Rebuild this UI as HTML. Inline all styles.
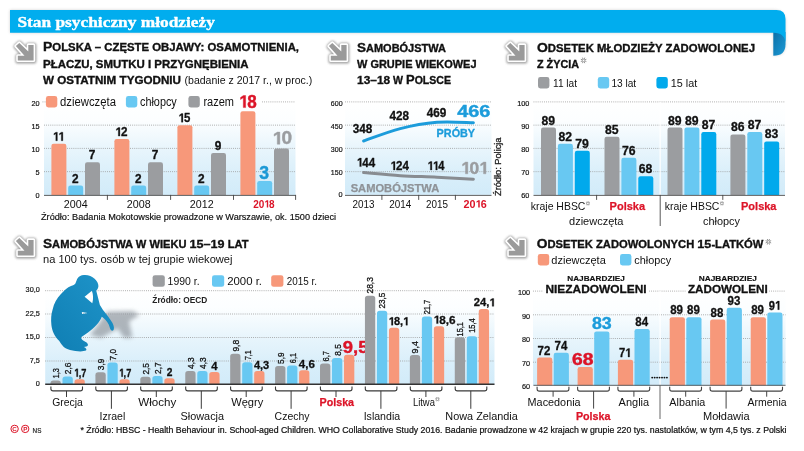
<!DOCTYPE html>
<html lang="pl"><head><meta charset="utf-8"><title>Stan psychiczny młodzieży</title>
<style>html,body{margin:0;padding:0;background:#fff}body{width:804px;height:451px;overflow:hidden;font-family:"Liberation Sans",sans-serif}svg{display:block}</style>
</head><body>
<svg width="804" height="451" viewBox="0 0 804 451">
<defs>
<linearGradient id="pg" x1="0" y1="0" x2="0" y2="1"><stop offset="0" stop-color="#ffffff"/><stop offset="0.2" stop-color="#fcfeff"/><stop offset="0.5" stop-color="#e8f5fc"/><stop offset="0.8" stop-color="#d8eefa"/><stop offset="1" stop-color="#d2ebf9"/></linearGradient>
<linearGradient id="pers" x1="1" y1="0" x2="0" y2="1"><stop offset="0" stop-color="#1f95ca"/><stop offset="1" stop-color="#0f7eb3"/></linearGradient>
<linearGradient id="fold" x1="0" y1="0" x2="1" y2="1"><stop offset="0" stop-color="#0a6fa8"/><stop offset="1" stop-color="#1e9bd6"/></linearGradient>
<filter id="blur1" x="-30%" y="-30%" width="160%" height="160%"><feGaussianBlur stdDeviation="1.2"/></filter>
<filter id="blur2" x="-30%" y="-30%" width="160%" height="160%"><feGaussianBlur stdDeviation="2.2"/></filter>
<filter id="blur3" x="-10%" y="-60%" width="120%" height="220%"><feGaussianBlur stdDeviation="1.6"/></filter>
</defs>
<rect width="804" height="451" fill="#fff"/>
<g opacity="0.999">
<path d="M10,10 H773 Q785.5,10 785.5,22.5 V44 Q785.5,55.5 773.5,55.5 V32.7 H10 Z" fill="#999" opacity="0.45" filter="url(#blur3)"/>
<path d="M773.3,32 H785.5 V44.3 Q785.5,55.8 773.3,55.8 Z" fill="url(#fold)"/>
<path d="M10,10 H776.5 Q785.5,10 785.5,19 V44.3 Q785.5,32.8 773.3,32.8 H10 Z" fill="#00adee"/>
<text x="17.4" y="26.8" font-family="Liberation Serif" font-size="15.2" font-weight="bold" fill="#fff" text-anchor="start" textLength="197.5" lengthAdjust="spacingAndGlyphs" stroke="#fff" stroke-width="0.35" stroke-linejoin="round">Stan psychiczny młodzieży</text>
<path d="M19.3,43.0 L28.3,51.6 L28.3,44.9 L33.6,44.9 L33.6,60.4 L17.8,60.4 L17.8,55.8 L24.5,55.8 L15.9,46.1 Z" fill="#8a8a8a" stroke="#8a8a8a" stroke-width="5.2" stroke-linejoin="round" opacity="0.8" filter="url(#blur1)" transform="translate(0.2,0.5)"/>
<path d="M19.3,43.0 L28.3,51.6 L28.3,44.9 L33.6,44.9 L33.6,60.4 L17.8,60.4 L17.8,55.8 L24.5,55.8 L15.9,46.1 Z" fill="#fff" stroke="#fff" stroke-width="3.2" stroke-linejoin="round"/>
<path d="M19.3,43.0 L28.3,51.6 L28.3,44.9 L33.6,44.9 L33.6,60.4 L17.8,60.4 L17.8,55.8 L24.5,55.8 L15.9,46.1 Z" fill="#9a9a9a"/>
<text x="43.0" y="51.2" font-family="Liberation Sans" font-weight="bold" fill="#111111" stroke="#111111" stroke-width="0.32" xml:space="preserve" textLength="256.0" lengthAdjust="spacingAndGlyphs"><tspan font-size="12.3">P</tspan><tspan font-size="10.0">OLSKA – CZĘSTE OBJAWY: OSAMOTNIENIA,</tspan></text>
<text x="43.0" y="67.8" font-family="Liberation Sans" font-weight="bold" fill="#111111" stroke="#111111" stroke-width="0.32" xml:space="preserve" textLength="205.5" lengthAdjust="spacingAndGlyphs"><tspan font-size="10.0">PŁACZU, SMUTKU I PRZYGNĘBIENIA</tspan></text>
<text x="43.0" y="84.2" font-family="Liberation Sans" font-weight="bold" fill="#111111" stroke="#111111" stroke-width="0.32" xml:space="preserve" textLength="138.0" lengthAdjust="spacingAndGlyphs"><tspan font-size="10.0">W OSTATNIM TYGODNIU</tspan></text>
<text x="184.5" y="84.2" font-family="Liberation Sans" font-size="10.8" font-weight="normal" fill="#111111" text-anchor="start" textLength="127.8" lengthAdjust="spacingAndGlyphs">(badanie z 2017 r., w proc.)</text>
<rect x="44.0" y="102.0" width="251.5" height="93.4" fill="url(#pg)"/>
<line x1="44.0" y1="171.65" x2="295.5" y2="171.65" stroke="#999999" stroke-width="0.85" stroke-dasharray="0.9 1.2"/>
<line x1="44.0" y1="148.40" x2="295.5" y2="148.40" stroke="#999999" stroke-width="0.85" stroke-dasharray="0.9 1.2"/>
<line x1="44.0" y1="125.15" x2="295.5" y2="125.15" stroke="#999999" stroke-width="0.85" stroke-dasharray="0.9 1.2"/>
<line x1="42.5" y1="101.90" x2="45.5" y2="101.90" stroke="#999999" stroke-width="0.85" stroke-dasharray="0.9 1.2"/>
<line x1="262.0" y1="101.90" x2="295.5" y2="101.90" stroke="#999999" stroke-width="0.85" stroke-dasharray="0.9 1.2"/>
<text x="39.6" y="197.5" font-family="Liberation Sans" font-size="7.3" font-weight="normal" fill="#111111" text-anchor="end" stroke="#111111" stroke-width="0.18" stroke-linejoin="round">0</text>
<text x="39.6" y="175.2" font-family="Liberation Sans" font-size="7.3" font-weight="normal" fill="#111111" text-anchor="end" stroke="#111111" stroke-width="0.18" stroke-linejoin="round">5</text>
<text x="39.6" y="152.0" font-family="Liberation Sans" font-size="7.3" font-weight="normal" fill="#111111" text-anchor="end" stroke="#111111" stroke-width="0.18" stroke-linejoin="round">10</text>
<text x="39.6" y="128.8" font-family="Liberation Sans" font-size="7.3" font-weight="normal" fill="#111111" text-anchor="end" stroke="#111111" stroke-width="0.18" stroke-linejoin="round">15</text>
<text x="39.6" y="105.5" font-family="Liberation Sans" font-size="7.3" font-weight="normal" fill="#111111" text-anchor="end" stroke="#111111" stroke-width="0.18" stroke-linejoin="round">20</text>
<rect x="45.9" y="96.1" width="11.4" height="11.4" rx="2.4" fill="#f7987a"/>
<text x="60.0" y="106.4" font-family="Liberation Sans" font-size="12" font-weight="normal" fill="#111111" text-anchor="start" textLength="56.0" lengthAdjust="spacingAndGlyphs">dziewczęta</text>
<rect x="125.9" y="96.1" width="11.4" height="11.4" rx="2.4" fill="#68c8f2"/>
<text x="140.0" y="106.4" font-family="Liberation Sans" font-size="12" font-weight="normal" fill="#111111" text-anchor="start" textLength="36.8" lengthAdjust="spacingAndGlyphs">chłopcy</text>
<rect x="188.4" y="96.1" width="11.4" height="11.4" rx="2.4" fill="#9b9da0"/>
<text x="203.4" y="106.4" font-family="Liberation Sans" font-size="12" font-weight="normal" fill="#111111" text-anchor="start" textLength="30.6" lengthAdjust="spacingAndGlyphs">razem</text>
<path d="M51.40,194.90 V145.95 Q51.40,143.75 53.60,143.75 H64.20 Q66.40,143.75 66.40,145.95 V194.90 Z" fill="#f7987a"/>
<g transform="translate(52.90,140.75) scale(0.9176,1)" fill="#111111" stroke="#111111" stroke-width="0.30" stroke-linejoin="round">
<path d="M3.17,0.00 L3.17,-6.96 L1.12,-5.69 L1.12,-7.14 L3.26,-8.53 L4.87,-8.53 L4.87,0.00Z"/>
<path d="M9.16,0.00 L9.16,-6.96 L7.11,-5.69 L7.11,-7.14 L9.25,-8.53 L10.86,-8.53 L10.86,0.00Z"/>
</g>
<path d="M68.20,194.90 V187.80 Q68.20,185.60 70.40,185.60 H81.00 Q83.20,185.60 83.20,187.80 V194.90 Z" fill="#68c8f2"/>
<text x="75.2" y="182.6" font-family="Liberation Sans" font-size="12.4" font-weight="bold" fill="#111111" text-anchor="middle" textLength="6.6" lengthAdjust="spacingAndGlyphs" stroke="#111111" stroke-width="0.30" stroke-linejoin="round">2</text>
<path d="M85.00,194.90 V164.55 Q85.00,162.35 87.20,162.35 H97.80 Q100.00,162.35 100.00,164.55 V194.90 Z" fill="#9b9da0"/>
<text x="92.0" y="159.3" font-family="Liberation Sans" font-size="12.4" font-weight="bold" fill="#111111" text-anchor="middle" textLength="6.6" lengthAdjust="spacingAndGlyphs" stroke="#111111" stroke-width="0.30" stroke-linejoin="round">7</text>
<text x="75.7" y="207.5" font-family="Liberation Sans" font-size="10.4" font-weight="normal" fill="#111111" text-anchor="middle" textLength="23.8" lengthAdjust="spacingAndGlyphs">2004</text>
<path d="M114.40,194.90 V141.30 Q114.40,139.10 116.60,139.10 H127.20 Q129.40,139.10 129.40,141.30 V194.90 Z" fill="#f7987a"/>
<g transform="translate(115.30,136.10) scale(0.9464,1)" fill="#111111" stroke="#111111" stroke-width="0.30" stroke-linejoin="round">
<path d="M3.17,0.00 L3.17,-6.96 L1.12,-5.69 L1.12,-7.14 L3.26,-8.53 L4.87,-8.53 L4.87,0.00Z"/>
<text x="5.99" y="0" font-family="Liberation Sans" font-size="12.4" font-weight="bold">2</text>
</g>
<path d="M131.20,194.90 V187.80 Q131.20,185.60 133.40,185.60 H144.00 Q146.20,185.60 146.20,187.80 V194.90 Z" fill="#68c8f2"/>
<text x="138.2" y="182.6" font-family="Liberation Sans" font-size="12.4" font-weight="bold" fill="#111111" text-anchor="middle" textLength="6.6" lengthAdjust="spacingAndGlyphs" stroke="#111111" stroke-width="0.30" stroke-linejoin="round">2</text>
<path d="M148.00,194.90 V164.55 Q148.00,162.35 150.20,162.35 H160.80 Q163.00,162.35 163.00,164.55 V194.90 Z" fill="#9b9da0"/>
<text x="155.0" y="159.3" font-family="Liberation Sans" font-size="12.4" font-weight="bold" fill="#111111" text-anchor="middle" textLength="6.6" lengthAdjust="spacingAndGlyphs" stroke="#111111" stroke-width="0.30" stroke-linejoin="round">7</text>
<text x="138.7" y="207.5" font-family="Liberation Sans" font-size="10.4" font-weight="normal" fill="#111111" text-anchor="middle" textLength="23.8" lengthAdjust="spacingAndGlyphs">2008</text>
<path d="M177.40,194.90 V127.35 Q177.40,125.15 179.60,125.15 H190.20 Q192.40,125.15 192.40,127.35 V194.90 Z" fill="#f7987a"/>
<g transform="translate(178.45,122.15) scale(0.9232,1)" fill="#111111" stroke="#111111" stroke-width="0.30" stroke-linejoin="round">
<path d="M3.17,0.00 L3.17,-6.96 L1.12,-5.69 L1.12,-7.14 L3.26,-8.53 L4.87,-8.53 L4.87,0.00Z"/>
<text x="5.99" y="0" font-family="Liberation Sans" font-size="12.4" font-weight="bold">5</text>
</g>
<path d="M194.20,194.90 V187.80 Q194.20,185.60 196.40,185.60 H207.00 Q209.20,185.60 209.20,187.80 V194.90 Z" fill="#68c8f2"/>
<text x="201.2" y="182.6" font-family="Liberation Sans" font-size="12.4" font-weight="bold" fill="#111111" text-anchor="middle" textLength="6.6" lengthAdjust="spacingAndGlyphs" stroke="#111111" stroke-width="0.30" stroke-linejoin="round">2</text>
<path d="M211.00,194.90 V155.25 Q211.00,153.05 213.20,153.05 H223.80 Q226.00,153.05 226.00,155.25 V194.90 Z" fill="#9b9da0"/>
<text x="218.0" y="150.1" font-family="Liberation Sans" font-size="12.4" font-weight="bold" fill="#111111" text-anchor="middle" textLength="6.6" lengthAdjust="spacingAndGlyphs" stroke="#111111" stroke-width="0.30" stroke-linejoin="round">9</text>
<text x="201.7" y="207.5" font-family="Liberation Sans" font-size="10.4" font-weight="normal" fill="#111111" text-anchor="middle" textLength="23.8" lengthAdjust="spacingAndGlyphs">2012</text>
<path d="M240.40,194.90 V113.40 Q240.40,111.20 242.60,111.20 H253.20 Q255.40,111.20 255.40,113.40 V194.90 Z" fill="#f7987a"/>
<path d="M257.20,194.90 V183.15 Q257.20,180.95 259.40,180.95 H270.00 Q272.20,180.95 272.20,183.15 V194.90 Z" fill="#68c8f2"/>
<path d="M274.00,194.90 V150.60 Q274.00,148.40 276.20,148.40 H286.80 Q289.00,148.40 289.00,150.60 V194.90 Z" fill="#9b9da0"/>
<g transform="translate(238.95,107.60) scale(0.9674,1)" fill="#dc1428" stroke="#dc1428" stroke-width="0.40" stroke-linejoin="round">
<path d="M4.49,0.00 L4.49,-9.88 L1.59,-8.07 L1.59,-10.14 L4.62,-12.11 L6.91,-12.11 L6.91,0.00Z"/>
<text x="8.51" y="0" font-family="Liberation Sans" font-size="17.6" font-weight="bold">8</text>
</g>
<text x="264.2" y="178.8" font-family="Liberation Sans" font-size="17.6" font-weight="bold" fill="#1b98d5" text-anchor="middle" textLength="9.8" lengthAdjust="spacingAndGlyphs" stroke="#1b98d5" stroke-width="0.40" stroke-linejoin="round">3</text>
<g transform="translate(272.40,144.20) scale(1.0822,1)" fill="#9b9da0" stroke="#9b9da0" stroke-width="0.40" stroke-linejoin="round">
<path d="M4.49,0.00 L4.49,-9.88 L1.59,-8.07 L1.59,-10.14 L4.62,-12.11 L6.91,-12.11 L6.91,0.00Z"/>
<text x="8.51" y="0" font-family="Liberation Sans" font-size="17.6" font-weight="bold">0</text>
</g>
<g transform="translate(253.15,207.50) scale(0.9607,1)" fill="#dc1428">
<text x="0.00" y="0" font-family="Liberation Sans" font-size="10.4" font-weight="bold">2</text>
<text x="5.78" y="0" font-family="Liberation Sans" font-size="10.4" font-weight="bold">0</text>
<path d="M14.22,0.00 L14.22,-5.84 L12.51,-4.77 L12.51,-5.99 L14.30,-7.16 L15.65,-7.16 L15.65,0.00Z"/>
<text x="16.60" y="0" font-family="Liberation Sans" font-size="10.4" font-weight="bold">8</text>
</g>
<line x1="44" y1="195.4" x2="295.8" y2="195.4" stroke="#444" stroke-width="0.85"/>
<line x1="107.4" y1="194.9" x2="107.4" y2="199.9" stroke="#444" stroke-width="0.9"/>
<line x1="170.6" y1="194.9" x2="170.6" y2="199.9" stroke="#444" stroke-width="0.9"/>
<line x1="233.5" y1="194.9" x2="233.5" y2="199.9" stroke="#444" stroke-width="0.9"/>
<line x1="295.6" y1="194.9" x2="295.6" y2="199.9" stroke="#444" stroke-width="0.9"/>
<text x="41.0" y="220.1" font-family="Liberation Sans" font-size="9.0" font-weight="normal" fill="#111111" text-anchor="start" textLength="295.0" lengthAdjust="spacingAndGlyphs" stroke="#111111" stroke-width="0.18" stroke-linejoin="round">Źródło: Badania Mokotowskie prowadzone w Warszawie, ok. 1500 dzieci</text>
<path d="M332.3,43.0 L341.3,51.6 L341.3,44.9 L346.6,44.9 L346.6,60.4 L330.8,60.4 L330.8,55.8 L337.5,55.8 L328.9,46.1 Z" fill="#8a8a8a" stroke="#8a8a8a" stroke-width="5.2" stroke-linejoin="round" opacity="0.8" filter="url(#blur1)" transform="translate(0.2,0.5)"/>
<path d="M332.3,43.0 L341.3,51.6 L341.3,44.9 L346.6,44.9 L346.6,60.4 L330.8,60.4 L330.8,55.8 L337.5,55.8 L328.9,46.1 Z" fill="#fff" stroke="#fff" stroke-width="3.2" stroke-linejoin="round"/>
<path d="M332.3,43.0 L341.3,51.6 L341.3,44.9 L346.6,44.9 L346.6,60.4 L330.8,60.4 L330.8,55.8 L337.5,55.8 L328.9,46.1 Z" fill="#9a9a9a"/>
<text x="357.0" y="51.6" font-family="Liberation Sans" font-weight="bold" fill="#111111" stroke="#111111" stroke-width="0.32" xml:space="preserve" textLength="89.0" lengthAdjust="spacingAndGlyphs"><tspan font-size="12.3">S</tspan><tspan font-size="10.0">AMOBÓJSTWA</tspan></text>
<text x="357.0" y="68.0" font-family="Liberation Sans" font-weight="bold" fill="#111111" stroke="#111111" stroke-width="0.32" xml:space="preserve" textLength="119.5" lengthAdjust="spacingAndGlyphs"><tspan font-size="10.0">W GRUPIE WIEKOWEJ</tspan></text>
<text x="357.0" y="84.2" font-family="Liberation Sans" font-weight="bold" fill="#111111" stroke="#111111" stroke-width="0.32" xml:space="preserve" textLength="94.0" lengthAdjust="spacingAndGlyphs"><tspan font-size="11.3">13–18</tspan><tspan font-size="10.0"> W </tspan><tspan font-size="12.3">P</tspan><tspan font-size="10.0">OLSCE</tspan></text>
<rect x="345.0" y="102.0" width="146.5" height="92.9" fill="url(#pg)"/>
<line x1="345.0" y1="171.65" x2="491.5" y2="171.65" stroke="#999999" stroke-width="0.85" stroke-dasharray="0.9 1.2"/>
<line x1="345.0" y1="148.40" x2="491.5" y2="148.40" stroke="#999999" stroke-width="0.85" stroke-dasharray="0.9 1.2"/>
<line x1="345.0" y1="125.15" x2="491.5" y2="125.15" stroke="#999999" stroke-width="0.85" stroke-dasharray="0.9 1.2"/>
<line x1="345.0" y1="101.90" x2="491.5" y2="101.90" stroke="#999999" stroke-width="0.85" stroke-dasharray="0.9 1.2"/>
<text x="342.6" y="197.1" font-family="Liberation Sans" font-size="7.3" font-weight="normal" fill="#111111" text-anchor="end" stroke="#111111" stroke-width="0.18" stroke-linejoin="round">0</text>
<text x="342.6" y="175.2" font-family="Liberation Sans" font-size="7.3" font-weight="normal" fill="#111111" text-anchor="end" textLength="11.8" lengthAdjust="spacingAndGlyphs" stroke="#111111" stroke-width="0.18" stroke-linejoin="round">150</text>
<text x="342.6" y="152.0" font-family="Liberation Sans" font-size="7.3" font-weight="normal" fill="#111111" text-anchor="end" textLength="11.8" lengthAdjust="spacingAndGlyphs" stroke="#111111" stroke-width="0.18" stroke-linejoin="round">300</text>
<text x="342.6" y="128.8" font-family="Liberation Sans" font-size="7.3" font-weight="normal" fill="#111111" text-anchor="end" textLength="11.8" lengthAdjust="spacingAndGlyphs" stroke="#111111" stroke-width="0.18" stroke-linejoin="round">450</text>
<text x="342.6" y="105.5" font-family="Liberation Sans" font-size="7.3" font-weight="normal" fill="#111111" text-anchor="end" textLength="11.8" lengthAdjust="spacingAndGlyphs" stroke="#111111" stroke-width="0.18" stroke-linejoin="round">600</text>
<path d="M363.6,141.0 C369.7,138.9 388.1,131.7 400.3,128.6 C412.5,125.4 424.8,123.2 437.0,122.2 C449.2,121.2 467.3,122.6 473.4,122.7" fill="none" stroke="#1c9cdb" stroke-width="3" stroke-linecap="round"/>
<path d="M363.6,172.6 C369.7,173.1 388.1,174.9 400.3,175.7 C412.5,176.5 424.8,176.6 437.0,177.2 C449.2,177.8 467.3,178.9 473.4,179.2" fill="none" stroke="#888c91" stroke-width="3" stroke-linecap="round"/>
<text x="362.5" y="133.4" font-family="Liberation Sans" font-size="12.4" font-weight="bold" fill="#111111" text-anchor="middle" textLength="19.6" lengthAdjust="spacingAndGlyphs" stroke="#111111" stroke-width="0.30" stroke-linejoin="round">348</text>
<text x="399.3" y="120.4" font-family="Liberation Sans" font-size="12.4" font-weight="bold" fill="#111111" text-anchor="middle" textLength="19.6" lengthAdjust="spacingAndGlyphs" stroke="#111111" stroke-width="0.30" stroke-linejoin="round">428</text>
<text x="436.6" y="117.4" font-family="Liberation Sans" font-size="12.4" font-weight="bold" fill="#111111" text-anchor="middle" textLength="19.6" lengthAdjust="spacingAndGlyphs" stroke="#111111" stroke-width="0.30" stroke-linejoin="round">469</text>
<text x="457.2" y="116.6" font-family="Liberation Sans" font-size="16.6" font-weight="bold" fill="#1c9cdb" text-anchor="start" textLength="33.2" lengthAdjust="spacingAndGlyphs" stroke="#1c9cdb" stroke-width="0.40" stroke-linejoin="round">466</text>
<text x="436.6" y="137.4" font-family="Liberation Sans" font-size="10.4" font-weight="bold" fill="#1c9cdb" text-anchor="start" textLength="38.5" lengthAdjust="spacingAndGlyphs" stroke="#1c9cdb" stroke-width="0.30" stroke-linejoin="round">PRÓBY</text>
<g transform="translate(356.75,166.60) scale(0.9350,1)" fill="#111111" stroke="#111111" stroke-width="0.30" stroke-linejoin="round">
<path d="M3.17,0.00 L3.17,-6.96 L1.12,-5.69 L1.12,-7.14 L3.26,-8.53 L4.87,-8.53 L4.87,0.00Z"/>
<text x="5.99" y="0" font-family="Liberation Sans" font-size="12.4" font-weight="bold">4</text>
<text x="12.89" y="0" font-family="Liberation Sans" font-size="12.4" font-weight="bold">4</text>
</g>
<g transform="translate(390.45,170.00) scale(0.9350,1)" fill="#111111" stroke="#111111" stroke-width="0.30" stroke-linejoin="round">
<path d="M3.17,0.00 L3.17,-6.96 L1.12,-5.69 L1.12,-7.14 L3.26,-8.53 L4.87,-8.53 L4.87,0.00Z"/>
<text x="5.99" y="0" font-family="Liberation Sans" font-size="12.4" font-weight="bold">2</text>
<text x="12.89" y="0" font-family="Liberation Sans" font-size="12.4" font-weight="bold">4</text>
</g>
<g transform="translate(427.50,170.00) scale(0.9002,1)" fill="#111111" stroke="#111111" stroke-width="0.30" stroke-linejoin="round">
<path d="M3.17,0.00 L3.17,-6.96 L1.12,-5.69 L1.12,-7.14 L3.26,-8.53 L4.87,-8.53 L4.87,0.00Z"/>
<path d="M9.16,0.00 L9.16,-6.96 L7.11,-5.69 L7.11,-7.14 L9.25,-8.53 L10.86,-8.53 L10.86,0.00Z"/>
<text x="11.99" y="0" font-family="Liberation Sans" font-size="12.4" font-weight="bold">4</text>
</g>
<g transform="translate(461.00,173.80) scale(1.0236,1)" fill="#9b9da0" stroke="#9b9da0" stroke-width="0.40" stroke-linejoin="round">
<path d="M4.34,0.00 L4.34,-9.55 L1.54,-7.79 L1.54,-9.79 L4.47,-11.70 L6.67,-11.70 L6.67,0.00Z"/>
<text x="8.22" y="0" font-family="Liberation Sans" font-size="17" font-weight="bold">0</text>
<path d="M22.01,0.00 L22.01,-9.55 L19.21,-7.79 L19.21,-9.79 L22.14,-11.70 L24.35,-11.70 L24.35,0.00Z"/>
</g>
<text x="350.7" y="191.8" font-family="Liberation Sans" font-size="10.1" font-weight="bold" fill="#8f9398" text-anchor="start" textLength="88.5" lengthAdjust="spacingAndGlyphs" stroke="#8f9398" stroke-width="0.25" stroke-linejoin="round">SAMOBÓJSTWA</text>
<line x1="345.0" y1="195.4" x2="491.5" y2="195.4" stroke="#444" stroke-width="0.85"/>
<line x1="381.9" y1="194.9" x2="381.9" y2="199.9" stroke="#444" stroke-width="0.9"/>
<line x1="418.7" y1="194.9" x2="418.7" y2="199.9" stroke="#444" stroke-width="0.9"/>
<line x1="455.4" y1="194.9" x2="455.4" y2="199.9" stroke="#444" stroke-width="0.9"/>
<text x="363.6" y="207.5" font-family="Liberation Sans" font-size="10.4" font-weight="normal" fill="#111111" text-anchor="middle" textLength="22.0" lengthAdjust="spacingAndGlyphs">2013</text>
<text x="400.3" y="207.5" font-family="Liberation Sans" font-size="10.4" font-weight="normal" fill="#111111" text-anchor="middle" textLength="22.0" lengthAdjust="spacingAndGlyphs">2014</text>
<text x="437.0" y="207.5" font-family="Liberation Sans" font-size="10.4" font-weight="normal" fill="#111111" text-anchor="middle" textLength="22.0" lengthAdjust="spacingAndGlyphs">2015</text>
<g transform="translate(463.50,207.50) scale(1.0367,1)" fill="#dc1428">
<text x="0.00" y="0" font-family="Liberation Sans" font-size="10.4" font-weight="bold">2</text>
<text x="5.78" y="0" font-family="Liberation Sans" font-size="10.4" font-weight="bold">0</text>
<path d="M14.22,0.00 L14.22,-5.84 L12.51,-4.77 L12.51,-5.99 L14.30,-7.16 L15.65,-7.16 L15.65,0.00Z"/>
<text x="16.60" y="0" font-family="Liberation Sans" font-size="10.4" font-weight="bold">6</text>
</g>
<text transform="translate(501.0,196.0) rotate(-90)" font-family="Liberation Sans" font-size="8.8" font-weight="normal" stroke="#222" stroke-width="0.3" fill="#222" textLength="58.5" lengthAdjust="spacingAndGlyphs">Źródło: Policja</text>
<path d="M510.3,43.0 L519.3,51.6 L519.3,44.9 L524.6,44.9 L524.6,60.4 L508.8,60.4 L508.8,55.8 L515.5,55.8 L506.9,46.1 Z" fill="#8a8a8a" stroke="#8a8a8a" stroke-width="5.2" stroke-linejoin="round" opacity="0.8" filter="url(#blur1)" transform="translate(0.2,0.5)"/>
<path d="M510.3,43.0 L519.3,51.6 L519.3,44.9 L524.6,44.9 L524.6,60.4 L508.8,60.4 L508.8,55.8 L515.5,55.8 L506.9,46.1 Z" fill="#fff" stroke="#fff" stroke-width="3.2" stroke-linejoin="round"/>
<path d="M510.3,43.0 L519.3,51.6 L519.3,44.9 L524.6,44.9 L524.6,60.4 L508.8,60.4 L508.8,55.8 L515.5,55.8 L506.9,46.1 Z" fill="#9a9a9a"/>
<text x="537.0" y="51.8" font-family="Liberation Sans" font-weight="bold" fill="#111111" stroke="#111111" stroke-width="0.32" xml:space="preserve" textLength="218.0" lengthAdjust="spacingAndGlyphs"><tspan font-size="12.3">O</tspan><tspan font-size="10.0">DSETEK MŁODZIEŻY ZADOWOLONEJ</tspan></text>
<text x="537.0" y="67.9" font-family="Liberation Sans" font-weight="bold" fill="#111111" stroke="#111111" stroke-width="0.32" xml:space="preserve" textLength="42.0" lengthAdjust="spacingAndGlyphs"><tspan font-size="10.0">Z ŻYCIA</tspan></text>
<line x1="580.83" y1="59.25" x2="586.37" y2="61.55" stroke="#666" stroke-width="0.7"/>
<line x1="582.45" y1="57.63" x2="584.75" y2="63.17" stroke="#666" stroke-width="0.7"/>
<line x1="584.75" y1="57.63" x2="582.45" y2="63.17" stroke="#666" stroke-width="0.7"/>
<line x1="586.37" y1="59.25" x2="580.83" y2="61.55" stroke="#666" stroke-width="0.7"/>
<circle cx="583.60" cy="60.40" r="0.9" fill="#fff"/>
<rect x="538.0" y="77.0" width="11.4" height="11.4" rx="2.4" fill="#9b9da0"/>
<text x="553.0" y="87.2" font-family="Liberation Sans" font-size="11.8" font-weight="normal" fill="#111111" text-anchor="start" textLength="24.0" lengthAdjust="spacingAndGlyphs">11 lat</text>
<rect x="597.8" y="77.0" width="11.4" height="11.4" rx="2.4" fill="#68c8f2"/>
<text x="611.4" y="87.2" font-family="Liberation Sans" font-size="11.8" font-weight="normal" fill="#111111" text-anchor="start" textLength="24.8" lengthAdjust="spacingAndGlyphs">13 lat</text>
<rect x="656.4" y="77.0" width="11.4" height="11.4" rx="2.4" fill="#00a9ec"/>
<text x="670.8" y="87.2" font-family="Liberation Sans" font-size="11.8" font-weight="normal" fill="#111111" text-anchor="start" textLength="26.4" lengthAdjust="spacingAndGlyphs">15 lat</text>
<rect x="533.5" y="102.0" width="251.5" height="92.9" fill="url(#pg)"/>
<line x1="533.5" y1="171.65" x2="785.0" y2="171.65" stroke="#999999" stroke-width="0.85" stroke-dasharray="0.9 1.2"/>
<line x1="533.5" y1="148.40" x2="785.0" y2="148.40" stroke="#999999" stroke-width="0.85" stroke-dasharray="0.9 1.2"/>
<line x1="533.5" y1="125.15" x2="785.0" y2="125.15" stroke="#999999" stroke-width="0.85" stroke-dasharray="0.9 1.2"/>
<line x1="533.5" y1="101.90" x2="785.0" y2="101.90" stroke="#999999" stroke-width="0.85" stroke-dasharray="0.9 1.2"/>
<text x="529.4" y="197.5" font-family="Liberation Sans" font-size="7.3" font-weight="normal" fill="#111111" text-anchor="end" stroke="#111111" stroke-width="0.18" stroke-linejoin="round">60</text>
<text x="529.4" y="175.2" font-family="Liberation Sans" font-size="7.3" font-weight="normal" fill="#111111" text-anchor="end" stroke="#111111" stroke-width="0.18" stroke-linejoin="round">70</text>
<text x="529.4" y="152.0" font-family="Liberation Sans" font-size="7.3" font-weight="normal" fill="#111111" text-anchor="end" stroke="#111111" stroke-width="0.18" stroke-linejoin="round">80</text>
<text x="529.4" y="128.8" font-family="Liberation Sans" font-size="7.3" font-weight="normal" fill="#111111" text-anchor="end" stroke="#111111" stroke-width="0.18" stroke-linejoin="round">90</text>
<text x="529.4" y="105.5" font-family="Liberation Sans" font-size="7.3" font-weight="normal" fill="#111111" text-anchor="end" stroke="#111111" stroke-width="0.18" stroke-linejoin="round">100</text>
<rect x="659.4" y="102" width="1.6" height="93" fill="#fff" opacity="0.75"/>
<path d="M541.00,194.90 V129.67 Q541.00,127.47 543.20,127.47 H553.80 Q556.00,127.47 556.00,129.67 V194.90 Z" fill="#9b9da0"/>
<text x="548.3" y="124.5" font-family="Liberation Sans" font-size="12.4" font-weight="bold" fill="#111111" text-anchor="middle" textLength="13.6" lengthAdjust="spacingAndGlyphs" stroke="#111111" stroke-width="0.30" stroke-linejoin="round">89</text>
<path d="M557.90,194.90 V145.95 Q557.90,143.75 560.10,143.75 H570.70 Q572.90,143.75 572.90,145.95 V194.90 Z" fill="#68c8f2"/>
<text x="565.2" y="140.8" font-family="Liberation Sans" font-size="12.4" font-weight="bold" fill="#111111" text-anchor="middle" textLength="13.6" lengthAdjust="spacingAndGlyphs" stroke="#111111" stroke-width="0.30" stroke-linejoin="round">82</text>
<path d="M574.80,194.90 V152.92 Q574.80,150.72 577.00,150.72 H587.60 Q589.80,150.72 589.80,152.92 V194.90 Z" fill="#00a9ec"/>
<text x="582.1" y="147.7" font-family="Liberation Sans" font-size="12.4" font-weight="bold" fill="#111111" text-anchor="middle" textLength="13.6" lengthAdjust="spacingAndGlyphs" stroke="#111111" stroke-width="0.30" stroke-linejoin="round">79</text>
<path d="M604.50,194.90 V138.97 Q604.50,136.78 606.70,136.78 H617.30 Q619.50,136.78 619.50,138.97 V194.90 Z" fill="#9b9da0"/>
<text x="611.8" y="133.8" font-family="Liberation Sans" font-size="12.4" font-weight="bold" fill="#111111" text-anchor="middle" textLength="13.6" lengthAdjust="spacingAndGlyphs" stroke="#111111" stroke-width="0.30" stroke-linejoin="round">85</text>
<path d="M621.40,194.90 V159.90 Q621.40,157.70 623.60,157.70 H634.20 Q636.40,157.70 636.40,159.90 V194.90 Z" fill="#68c8f2"/>
<text x="628.7" y="154.7" font-family="Liberation Sans" font-size="12.4" font-weight="bold" fill="#111111" text-anchor="middle" textLength="13.6" lengthAdjust="spacingAndGlyphs" stroke="#111111" stroke-width="0.30" stroke-linejoin="round">76</text>
<path d="M638.30,194.90 V178.50 Q638.30,176.30 640.50,176.30 H651.10 Q653.30,176.30 653.30,178.50 V194.90 Z" fill="#00a9ec"/>
<text x="645.6" y="173.3" font-family="Liberation Sans" font-size="12.4" font-weight="bold" fill="#111111" text-anchor="middle" textLength="13.6" lengthAdjust="spacingAndGlyphs" stroke="#111111" stroke-width="0.30" stroke-linejoin="round">68</text>
<path d="M667.50,194.90 V129.67 Q667.50,127.47 669.70,127.47 H680.30 Q682.50,127.47 682.50,129.67 V194.90 Z" fill="#9b9da0"/>
<text x="674.8" y="124.5" font-family="Liberation Sans" font-size="12.4" font-weight="bold" fill="#111111" text-anchor="middle" textLength="13.6" lengthAdjust="spacingAndGlyphs" stroke="#111111" stroke-width="0.30" stroke-linejoin="round">89</text>
<path d="M684.40,194.90 V129.67 Q684.40,127.47 686.60,127.47 H697.20 Q699.40,127.47 699.40,129.67 V194.90 Z" fill="#68c8f2"/>
<text x="691.7" y="124.5" font-family="Liberation Sans" font-size="12.4" font-weight="bold" fill="#111111" text-anchor="middle" textLength="13.6" lengthAdjust="spacingAndGlyphs" stroke="#111111" stroke-width="0.30" stroke-linejoin="round">89</text>
<path d="M701.30,194.90 V134.32 Q701.30,132.12 703.50,132.12 H714.10 Q716.30,132.12 716.30,134.32 V194.90 Z" fill="#00a9ec"/>
<text x="708.6" y="129.1" font-family="Liberation Sans" font-size="12.4" font-weight="bold" fill="#111111" text-anchor="middle" textLength="13.6" lengthAdjust="spacingAndGlyphs" stroke="#111111" stroke-width="0.30" stroke-linejoin="round">87</text>
<path d="M730.40,194.90 V136.65 Q730.40,134.45 732.60,134.45 H743.20 Q745.40,134.45 745.40,136.65 V194.90 Z" fill="#9b9da0"/>
<text x="737.7" y="131.4" font-family="Liberation Sans" font-size="12.4" font-weight="bold" fill="#111111" text-anchor="middle" textLength="13.6" lengthAdjust="spacingAndGlyphs" stroke="#111111" stroke-width="0.30" stroke-linejoin="round">86</text>
<path d="M747.30,194.90 V134.32 Q747.30,132.12 749.50,132.12 H760.10 Q762.30,132.12 762.30,134.32 V194.90 Z" fill="#68c8f2"/>
<text x="754.6" y="129.1" font-family="Liberation Sans" font-size="12.4" font-weight="bold" fill="#111111" text-anchor="middle" textLength="13.6" lengthAdjust="spacingAndGlyphs" stroke="#111111" stroke-width="0.30" stroke-linejoin="round">87</text>
<path d="M764.20,194.90 V143.62 Q764.20,141.43 766.40,141.43 H777.00 Q779.20,141.43 779.20,143.62 V194.90 Z" fill="#00a9ec"/>
<text x="771.5" y="138.4" font-family="Liberation Sans" font-size="12.4" font-weight="bold" fill="#111111" text-anchor="middle" textLength="13.6" lengthAdjust="spacingAndGlyphs" stroke="#111111" stroke-width="0.30" stroke-linejoin="round">83</text>
<line x1="533.5" y1="195.4" x2="785.0" y2="195.4" stroke="#444" stroke-width="0.85"/>
<line x1="596.6" y1="194.9" x2="596.6" y2="199.9" stroke="#444" stroke-width="0.9"/>
<line x1="722.8" y1="194.9" x2="722.8" y2="199.9" stroke="#444" stroke-width="0.9"/>
<line x1="660.2" y1="194.9" x2="660.2" y2="226" stroke="#444" stroke-width="0.9"/>
<text x="530.8" y="210.3" font-family="Liberation Sans" font-size="11.6" font-weight="normal" fill="#111111" text-anchor="start" textLength="54.6" lengthAdjust="spacingAndGlyphs">kraje HBSC</text>
<line x1="585.96" y1="202.60" x2="589.84" y2="204.20" stroke="#666" stroke-width="0.7"/>
<line x1="587.10" y1="201.46" x2="588.70" y2="205.34" stroke="#666" stroke-width="0.7"/>
<line x1="588.70" y1="201.46" x2="587.10" y2="205.34" stroke="#666" stroke-width="0.7"/>
<line x1="589.84" y1="202.60" x2="585.96" y2="204.20" stroke="#666" stroke-width="0.7"/>
<circle cx="587.90" cy="203.40" r="0.9" fill="#fff"/>
<text x="609.6" y="210.3" font-family="Liberation Sans" font-size="11.2" font-weight="bold" fill="#dc1428" text-anchor="start" textLength="35.5" lengthAdjust="spacingAndGlyphs" stroke="#dc1428" stroke-width="0.25" stroke-linejoin="round">Polska</text>
<text x="664.8" y="210.3" font-family="Liberation Sans" font-size="11.6" font-weight="normal" fill="#111111" text-anchor="start" textLength="54.6" lengthAdjust="spacingAndGlyphs">kraje HBSC</text>
<line x1="719.96" y1="202.60" x2="723.84" y2="204.20" stroke="#666" stroke-width="0.7"/>
<line x1="721.10" y1="201.46" x2="722.70" y2="205.34" stroke="#666" stroke-width="0.7"/>
<line x1="722.70" y1="201.46" x2="721.10" y2="205.34" stroke="#666" stroke-width="0.7"/>
<line x1="723.84" y1="202.60" x2="719.96" y2="204.20" stroke="#666" stroke-width="0.7"/>
<circle cx="721.90" cy="203.40" r="0.9" fill="#fff"/>
<text x="741.0" y="210.3" font-family="Liberation Sans" font-size="11.2" font-weight="bold" fill="#dc1428" text-anchor="start" textLength="35.5" lengthAdjust="spacingAndGlyphs" stroke="#dc1428" stroke-width="0.25" stroke-linejoin="round">Polska</text>
<text x="569.0" y="225.3" font-family="Liberation Sans" font-size="11.6" font-weight="normal" fill="#111111" text-anchor="start" textLength="54.5" lengthAdjust="spacingAndGlyphs">dziewczęta</text>
<text x="703.0" y="225.3" font-family="Liberation Sans" font-size="11.6" font-weight="normal" fill="#111111" text-anchor="start" textLength="37.0" lengthAdjust="spacingAndGlyphs">chłopcy</text>
<path d="M19.3,238.0 L28.3,246.6 L28.3,239.9 L33.6,239.9 L33.6,255.4 L17.8,255.4 L17.8,250.8 L24.5,250.8 L15.9,241.1 Z" fill="#8a8a8a" stroke="#8a8a8a" stroke-width="5.2" stroke-linejoin="round" opacity="0.8" filter="url(#blur1)" transform="translate(0.2,0.5)"/>
<path d="M19.3,238.0 L28.3,246.6 L28.3,239.9 L33.6,239.9 L33.6,255.4 L17.8,255.4 L17.8,250.8 L24.5,250.8 L15.9,241.1 Z" fill="#fff" stroke="#fff" stroke-width="3.2" stroke-linejoin="round"/>
<path d="M19.3,238.0 L28.3,246.6 L28.3,239.9 L33.6,239.9 L33.6,255.4 L17.8,255.4 L17.8,250.8 L24.5,250.8 L15.9,241.1 Z" fill="#9a9a9a"/>
<text x="43.0" y="248.3" font-family="Liberation Sans" font-weight="bold" fill="#111111" stroke="#111111" stroke-width="0.32" xml:space="preserve" textLength="205.5" lengthAdjust="spacingAndGlyphs"><tspan font-size="12.3">S</tspan><tspan font-size="10.0">AMOBÓJSTWA W WIEKU </tspan><tspan font-size="11.3">15–19</tspan><tspan font-size="10.0"> LAT</tspan></text>
<text x="43.0" y="263.0" font-family="Liberation Sans" font-size="10.8" font-weight="normal" fill="#111111" text-anchor="start" textLength="189.5" lengthAdjust="spacingAndGlyphs">na 100 tys. osób w tej grupie wiekowej</text>
<rect x="45.2" y="289.0" width="449.3" height="95.6" fill="url(#pg)"/>
<line x1="45.2" y1="361.00" x2="494.5" y2="361.00" stroke="#999999" stroke-width="0.85" stroke-dasharray="0.9 1.2"/>
<line x1="45.2" y1="337.50" x2="494.5" y2="337.50" stroke="#999999" stroke-width="0.85" stroke-dasharray="0.9 1.2"/>
<line x1="45.2" y1="314.00" x2="494.5" y2="314.00" stroke="#999999" stroke-width="0.85" stroke-dasharray="0.9 1.2"/>
<line x1="45.2" y1="290.70" x2="494.5" y2="290.70" stroke="#999999" stroke-width="0.85" stroke-dasharray="0.9 1.2"/>
<text x="39.8" y="385.9" font-family="Liberation Sans" font-size="7.3" font-weight="normal" fill="#111111" text-anchor="end" stroke="#111111" stroke-width="0.18" stroke-linejoin="round">0</text>
<text x="39.8" y="362.9" font-family="Liberation Sans" font-size="7.3" font-weight="normal" fill="#111111" text-anchor="end" stroke="#111111" stroke-width="0.18" stroke-linejoin="round">7,5</text>
<text x="39.8" y="339.3" font-family="Liberation Sans" font-size="7.3" font-weight="normal" fill="#111111" text-anchor="end" stroke="#111111" stroke-width="0.18" stroke-linejoin="round">15,0</text>
<text x="39.8" y="315.8" font-family="Liberation Sans" font-size="7.3" font-weight="normal" fill="#111111" text-anchor="end" stroke="#111111" stroke-width="0.18" stroke-linejoin="round">22,5</text>
<text x="39.8" y="292.2" font-family="Liberation Sans" font-size="7.3" font-weight="normal" fill="#111111" text-anchor="end" stroke="#111111" stroke-width="0.18" stroke-linejoin="round">30,0</text>
<rect x="150" y="273" width="172" height="15.5" fill="#fff"/>
<rect x="152.6" y="275.2" width="12.2" height="11.6" rx="2.4" fill="#9b9da0"/>
<text x="167.6" y="285.2" font-family="Liberation Sans" font-size="11.4" font-weight="normal" fill="#111111" text-anchor="start" textLength="32.0" lengthAdjust="spacingAndGlyphs">1990 r.</text>
<rect x="212.0" y="275.2" width="12.2" height="11.6" rx="2.4" fill="#68c8f2"/>
<text x="227.2" y="285.2" font-family="Liberation Sans" font-size="11.4" font-weight="normal" fill="#111111" text-anchor="start" textLength="34.8" lengthAdjust="spacingAndGlyphs">2000 r.</text>
<rect x="271.2" y="275.2" width="12.2" height="11.6" rx="2.4" fill="#f7987a"/>
<text x="286.7" y="285.2" font-family="Liberation Sans" font-size="11.4" font-weight="normal" fill="#111111" text-anchor="start" textLength="30.2" lengthAdjust="spacingAndGlyphs">2015 r.</text>
<text x="152.3" y="303.0" font-family="Liberation Sans" font-size="8.4" font-weight="bold" fill="#222" text-anchor="start" textLength="55.0" lengthAdjust="spacingAndGlyphs">Źródło: OECD</text>
<g>
<path d="M90,335 L99,323 L107,311.5 L133,311 L139.5,315 L129,321.5 L132.5,337.5 L124,338 L117.5,328.5 L101,338 Z" fill="#8a9199" opacity="0.66" filter="url(#blur2)"/>
<path fill-rule="evenodd" fill="url(#pers)" d="M83.9,275 C88,274.6 92,276.4 94.6,278.8 C97,281 98.5,283.8 98.4,286 C98.4,287.8 97.6,289.4 96.2,290.6 L99.9,305 L103,310 C106,314 110,318.5 112.5,323 C114,326 114.6,329 113.1,330.6 C111.5,331.2 110.2,329.6 109.6,327 C108.8,323.5 106.5,320.5 103.5,318 L101.8,316.7 C100,322 94,328 88,332.5 L81.1,337.3 C81.4,339 82.2,340.1 84,341 C86.5,342.1 88,343.5 88,345 C87.5,346.5 85.6,346.9 83.9,347 C86,348 87.1,349.6 86,350.6 C83,351.9 76,351.6 70,350 C66,349 63.5,347 62.5,345.5 C61,344 60,342.2 59.1,340.8 C55,337 52,331 51.4,325 C50.8,319 51.2,314 52.5,310 C54,303 57,298 60.5,294.5 C64,290.5 67.5,287.4 71,286 C73,285.3 74.7,284.7 75.4,283.4 C76.3,281.6 76.6,279.8 77.6,278.2 C78.8,276.4 81,275.2 83.9,275 Z M91.9,290.8 L84.6,296.7 L92.3,303.3 C93.5,299 93.3,294.6 91.9,290.8 Z M81.8,311.9 L87.6,313 L82.2,314 Z"/>
</g>
<path d="M50.50,384.20 V383.32 Q50.50,380.52 53.30,380.52 H58.00 Q60.80,380.52 60.80,383.32 V384.20 Z" fill="#9b9da0"/>
<text transform="translate(59.0,378.3) rotate(-90)" font-family="Liberation Sans" font-size="9.8" font-weight="normal" stroke="#111111" stroke-width="0.28" fill="#111111" textLength="10.2" lengthAdjust="spacingAndGlyphs">1,3</text>
<path d="M62.50,384.20 V379.24 Q62.50,376.44 65.30,376.44 H70.00 Q72.80,376.44 72.80,379.24 V384.20 Z" fill="#68c8f2"/>
<text transform="translate(71.0,374.2) rotate(-90)" font-family="Liberation Sans" font-size="9.8" font-weight="normal" stroke="#111111" stroke-width="0.28" fill="#111111" textLength="11.6" lengthAdjust="spacingAndGlyphs">2,6</text>
<path d="M74.50,384.20 V382.06 Q74.50,379.26 77.30,379.26 H82.00 Q84.80,379.26 84.80,382.06 V384.20 Z" fill="#f7987a"/>
<g transform="translate(74.20,376.66) scale(0.8123,1)" fill="#111111" stroke="#111111" stroke-width="0.30" stroke-linejoin="round">
<path d="M2.91,0.00 L2.91,-6.40 L1.03,-5.23 L1.03,-6.57 L2.99,-7.84 L4.48,-7.84 L4.48,0.00Z"/>
<text x="5.51" y="0" font-family="Liberation Sans" font-size="11.4" font-weight="bold">,</text>
<text x="8.68" y="0" font-family="Liberation Sans" font-size="11.4" font-weight="bold">7</text>
</g>
<path d="M50.9,386.6 V388.7 Q50.9,390.9 53.1,390.9 H80.3 Q82.5,390.9 82.5,388.7 V386.6" fill="none" stroke="#3a3a3a" stroke-width="1.1"/>
<line x1="66.5" y1="390.9" x2="66.5" y2="397.0" stroke="#3a3a3a" stroke-width="1.0"/>
<text x="67.5" y="405.8" font-family="Liberation Sans" font-size="10.8" font-weight="normal" fill="#111111" text-anchor="middle" textLength="30.6" lengthAdjust="spacingAndGlyphs">Grecja</text>
<path d="M95.42,384.20 V375.15 Q95.42,372.35 98.22,372.35 H102.92 Q105.72,372.35 105.72,375.15 V384.20 Z" fill="#9b9da0"/>
<text transform="translate(103.9,370.2) rotate(-90)" font-family="Liberation Sans" font-size="9.8" font-weight="normal" stroke="#111111" stroke-width="0.28" fill="#111111" textLength="11.6" lengthAdjust="spacingAndGlyphs">3,9</text>
<path d="M107.42,384.20 V365.42 Q107.42,362.62 110.22,362.62 H114.92 Q117.72,362.62 117.72,365.42 V384.20 Z" fill="#68c8f2"/>
<text transform="translate(115.9,360.4) rotate(-90)" font-family="Liberation Sans" font-size="9.8" font-weight="normal" stroke="#111111" stroke-width="0.28" fill="#111111" textLength="11.4" lengthAdjust="spacingAndGlyphs">7,0</text>
<path d="M119.42,384.20 V382.06 Q119.42,379.26 122.22,379.26 H126.92 Q129.72,379.26 129.72,382.06 V384.20 Z" fill="#f7987a"/>
<g transform="translate(119.12,376.66) scale(0.8123,1)" fill="#111111" stroke="#111111" stroke-width="0.30" stroke-linejoin="round">
<path d="M2.91,0.00 L2.91,-6.40 L1.03,-5.23 L1.03,-6.57 L2.99,-7.84 L4.48,-7.84 L4.48,0.00Z"/>
<text x="5.51" y="0" font-family="Liberation Sans" font-size="11.4" font-weight="bold">,</text>
<text x="8.68" y="0" font-family="Liberation Sans" font-size="11.4" font-weight="bold">7</text>
</g>
<path d="M95.8,386.6 V388.7 Q95.8,390.9 98.0,390.9 H125.2 Q127.4,390.9 127.4,388.7 V386.6" fill="none" stroke="#3a3a3a" stroke-width="1.1"/>
<line x1="111.4" y1="390.9" x2="111.4" y2="408.8" stroke="#3a3a3a" stroke-width="1.0"/>
<text x="112.4" y="420.0" font-family="Liberation Sans" font-size="10.8" font-weight="normal" fill="#111111" text-anchor="middle" textLength="25.8" lengthAdjust="spacingAndGlyphs">Izrael</text>
<path d="M140.34,384.20 V379.55 Q140.34,376.75 143.14,376.75 H147.84 Q150.64,376.75 150.64,379.55 V384.20 Z" fill="#9b9da0"/>
<text transform="translate(148.8,374.6) rotate(-90)" font-family="Liberation Sans" font-size="9.8" font-weight="normal" stroke="#111111" stroke-width="0.28" fill="#111111" textLength="11.6" lengthAdjust="spacingAndGlyphs">2,5</text>
<path d="M152.34,384.20 V378.92 Q152.34,376.12 155.14,376.12 H159.84 Q162.64,376.12 162.64,378.92 V384.20 Z" fill="#68c8f2"/>
<text transform="translate(160.8,373.9) rotate(-90)" font-family="Liberation Sans" font-size="9.8" font-weight="normal" stroke="#111111" stroke-width="0.28" fill="#111111" textLength="11.4" lengthAdjust="spacingAndGlyphs">2,7</text>
<path d="M164.34,384.20 V381.12 Q164.34,378.32 167.14,378.32 H171.84 Q174.64,378.32 174.64,381.12 V384.20 Z" fill="#f7987a"/>
<text x="169.5" y="376.1" font-family="Liberation Sans" font-size="11.4" font-weight="bold" fill="#111111" text-anchor="middle" textLength="5.7" lengthAdjust="spacingAndGlyphs" stroke="#111111" stroke-width="0.30" stroke-linejoin="round">2</text>
<path d="M140.7,386.6 V388.7 Q140.7,390.9 142.9,390.9 H170.1 Q172.3,390.9 172.3,388.7 V386.6" fill="none" stroke="#3a3a3a" stroke-width="1.1"/>
<line x1="156.3" y1="390.9" x2="156.3" y2="397.0" stroke="#3a3a3a" stroke-width="1.0"/>
<text x="157.3" y="405.8" font-family="Liberation Sans" font-size="10.8" font-weight="normal" fill="#111111" text-anchor="middle" textLength="38.0" lengthAdjust="spacingAndGlyphs">Włochy</text>
<path d="M185.26,384.20 V373.90 Q185.26,371.10 188.06,371.10 H192.76 Q195.56,371.10 195.56,373.90 V384.20 Z" fill="#9b9da0"/>
<text transform="translate(193.8,368.9) rotate(-90)" font-family="Liberation Sans" font-size="9.8" font-weight="normal" stroke="#111111" stroke-width="0.28" fill="#111111" textLength="11.6" lengthAdjust="spacingAndGlyphs">4,3</text>
<path d="M197.26,384.20 V373.90 Q197.26,371.10 200.06,371.10 H204.76 Q207.56,371.10 207.56,373.90 V384.20 Z" fill="#68c8f2"/>
<text transform="translate(205.8,368.9) rotate(-90)" font-family="Liberation Sans" font-size="9.8" font-weight="normal" stroke="#111111" stroke-width="0.28" fill="#111111" textLength="11.6" lengthAdjust="spacingAndGlyphs">4,3</text>
<path d="M209.26,384.20 V374.84 Q209.26,372.04 212.06,372.04 H216.76 Q219.56,372.04 219.56,374.84 V384.20 Z" fill="#f7987a"/>
<text x="214.5" y="369.8" font-family="Liberation Sans" font-size="11.4" font-weight="bold" fill="#111111" text-anchor="middle" textLength="6.3" lengthAdjust="spacingAndGlyphs" stroke="#111111" stroke-width="0.30" stroke-linejoin="round">4</text>
<path d="M185.7,386.6 V388.7 Q185.7,390.9 187.9,390.9 H215.1 Q217.3,390.9 217.3,388.7 V386.6" fill="none" stroke="#3a3a3a" stroke-width="1.1"/>
<line x1="201.3" y1="390.9" x2="201.3" y2="408.8" stroke="#3a3a3a" stroke-width="1.0"/>
<text x="202.3" y="420.0" font-family="Liberation Sans" font-size="10.8" font-weight="normal" fill="#111111" text-anchor="middle" textLength="43.5" lengthAdjust="spacingAndGlyphs">Słowacja</text>
<path d="M230.18,384.20 V356.63 Q230.18,353.83 232.98,353.83 H237.68 Q240.48,353.83 240.48,356.63 V384.20 Z" fill="#9b9da0"/>
<text transform="translate(238.7,351.6) rotate(-90)" font-family="Liberation Sans" font-size="9.8" font-weight="normal" stroke="#111111" stroke-width="0.28" fill="#111111" textLength="11.8" lengthAdjust="spacingAndGlyphs">9,8</text>
<path d="M242.18,384.20 V365.11 Q242.18,362.31 244.98,362.31 H249.68 Q252.48,362.31 252.48,365.11 V384.20 Z" fill="#68c8f2"/>
<text transform="translate(250.7,360.1) rotate(-90)" font-family="Liberation Sans" font-size="9.8" font-weight="normal" stroke="#111111" stroke-width="0.28" fill="#111111" textLength="9.8" lengthAdjust="spacingAndGlyphs">7,1</text>
<path d="M254.18,384.20 V373.90 Q254.18,371.10 256.98,371.10 H261.68 Q264.48,371.10 264.48,373.90 V384.20 Z" fill="#f7987a"/>
<text x="253.9" y="368.5" font-family="Liberation Sans" font-size="11.4" font-weight="bold" fill="#111111" text-anchor="start" textLength="15.4" lengthAdjust="spacingAndGlyphs" stroke="#111111" stroke-width="0.30" stroke-linejoin="round">4,3</text>
<path d="M230.6,386.6 V388.7 Q230.6,390.9 232.8,390.9 H260.0 Q262.2,390.9 262.2,388.7 V386.6" fill="none" stroke="#3a3a3a" stroke-width="1.1"/>
<line x1="246.2" y1="390.9" x2="246.2" y2="397.0" stroke="#3a3a3a" stroke-width="1.0"/>
<text x="247.2" y="405.8" font-family="Liberation Sans" font-size="10.8" font-weight="normal" fill="#111111" text-anchor="middle" textLength="32.0" lengthAdjust="spacingAndGlyphs">Węgry</text>
<path d="M275.10,384.20 V368.87 Q275.10,366.07 277.90,366.07 H282.60 Q285.40,366.07 285.40,368.87 V384.20 Z" fill="#9b9da0"/>
<text transform="translate(283.6,363.9) rotate(-90)" font-family="Liberation Sans" font-size="9.8" font-weight="normal" stroke="#111111" stroke-width="0.28" fill="#111111" textLength="11.6" lengthAdjust="spacingAndGlyphs">5,9</text>
<path d="M287.10,384.20 V368.25 Q287.10,365.45 289.90,365.45 H294.60 Q297.40,365.45 297.40,368.25 V384.20 Z" fill="#68c8f2"/>
<text transform="translate(295.6,363.2) rotate(-90)" font-family="Liberation Sans" font-size="9.8" font-weight="normal" stroke="#111111" stroke-width="0.28" fill="#111111" textLength="10.2" lengthAdjust="spacingAndGlyphs">6,1</text>
<path d="M299.10,384.20 V372.96 Q299.10,370.16 301.90,370.16 H306.60 Q309.40,370.16 309.40,372.96 V384.20 Z" fill="#f7987a"/>
<text x="298.8" y="367.6" font-family="Liberation Sans" font-size="11.4" font-weight="bold" fill="#111111" text-anchor="start" textLength="16.0" lengthAdjust="spacingAndGlyphs" stroke="#111111" stroke-width="0.30" stroke-linejoin="round">4,6</text>
<path d="M275.5,386.6 V388.7 Q275.5,390.9 277.7,390.9 H304.9 Q307.1,390.9 307.1,388.7 V386.6" fill="none" stroke="#3a3a3a" stroke-width="1.1"/>
<line x1="291.1" y1="390.9" x2="291.1" y2="408.8" stroke="#3a3a3a" stroke-width="1.0"/>
<text x="292.1" y="420.0" font-family="Liberation Sans" font-size="10.8" font-weight="normal" fill="#111111" text-anchor="middle" textLength="35.0" lengthAdjust="spacingAndGlyphs">Czechy</text>
<path d="M320.02,384.20 V366.36 Q320.02,363.56 322.82,363.56 H327.52 Q330.32,363.56 330.32,366.36 V384.20 Z" fill="#9b9da0"/>
<text transform="translate(328.5,361.4) rotate(-90)" font-family="Liberation Sans" font-size="9.8" font-weight="normal" stroke="#111111" stroke-width="0.28" fill="#111111" textLength="10.4" lengthAdjust="spacingAndGlyphs">6,7</text>
<path d="M332.02,384.20 V360.71 Q332.02,357.91 334.82,357.91 H339.52 Q342.32,357.91 342.32,360.71 V384.20 Z" fill="#68c8f2"/>
<text transform="translate(340.5,355.7) rotate(-90)" font-family="Liberation Sans" font-size="9.8" font-weight="normal" stroke="#111111" stroke-width="0.28" fill="#111111" textLength="11.4" lengthAdjust="spacingAndGlyphs">8,5</text>
<path d="M344.02,384.20 V357.57 Q344.02,354.77 346.82,354.77 H351.52 Q354.32,354.77 354.32,357.57 V384.20 Z" fill="#f7987a"/>
<text x="342.8" y="352.5" font-family="Liberation Sans" font-size="17" font-weight="bold" fill="#dc1428" text-anchor="start" textLength="25.6" lengthAdjust="spacingAndGlyphs" stroke="#dc1428" stroke-width="0.40" stroke-linejoin="round">9,5</text>
<path d="M320.4,386.6 V388.7 Q320.4,390.9 322.6,390.9 H349.8 Q352.0,390.9 352.0,388.7 V386.6" fill="none" stroke="#3a3a3a" stroke-width="1.1"/>
<line x1="336.0" y1="390.9" x2="336.0" y2="397.0" stroke="#3a3a3a" stroke-width="1.0"/>
<text x="336.8" y="405.8" font-family="Liberation Sans" font-size="10.8" font-weight="bold" fill="#dc1428" text-anchor="middle" textLength="34.5" lengthAdjust="spacingAndGlyphs" stroke="#dc1428" stroke-width="0.25" stroke-linejoin="round">Polska</text>
<path d="M364.94,384.20 V298.54 Q364.94,295.74 367.74,295.74 H372.44 Q375.24,295.74 375.24,298.54 V384.20 Z" fill="#9b9da0"/>
<text transform="translate(373.4,293.5) rotate(-90)" font-family="Liberation Sans" font-size="9.8" font-weight="normal" stroke="#111111" stroke-width="0.28" fill="#111111" textLength="16.4" lengthAdjust="spacingAndGlyphs">28,3</text>
<path d="M376.94,384.20 V313.61 Q376.94,310.81 379.74,310.81 H384.44 Q387.24,310.81 387.24,313.61 V384.20 Z" fill="#68c8f2"/>
<text transform="translate(385.4,308.6) rotate(-90)" font-family="Liberation Sans" font-size="9.8" font-weight="normal" stroke="#111111" stroke-width="0.28" fill="#111111" textLength="16.0" lengthAdjust="spacingAndGlyphs">23,5</text>
<path d="M388.94,384.20 V330.57 Q388.94,327.77 391.74,327.77 H396.44 Q399.24,327.77 399.24,330.57 V384.20 Z" fill="#f7987a"/>
<g transform="translate(388.64,325.17) scale(0.9645,1)" fill="#111111" stroke="#111111" stroke-width="0.30" stroke-linejoin="round">
<path d="M2.91,0.00 L2.91,-6.40 L1.03,-5.23 L1.03,-6.57 L2.99,-7.84 L4.48,-7.84 L4.48,0.00Z"/>
<text x="5.51" y="0" font-family="Liberation Sans" font-size="11.4" font-weight="bold">8</text>
<text x="11.85" y="0" font-family="Liberation Sans" font-size="11.4" font-weight="bold">,</text>
<path d="M17.93,0.00 L17.93,-6.40 L16.05,-5.23 L16.05,-6.57 L18.01,-7.84 L19.49,-7.84 L19.49,0.00Z"/>
</g>
<path d="M365.3,386.6 V388.7 Q365.3,390.9 367.5,390.9 H394.7 Q396.9,390.9 396.9,388.7 V386.6" fill="none" stroke="#3a3a3a" stroke-width="1.1"/>
<line x1="380.9" y1="390.9" x2="380.9" y2="408.8" stroke="#3a3a3a" stroke-width="1.0"/>
<text x="381.9" y="420.0" font-family="Liberation Sans" font-size="10.8" font-weight="normal" fill="#111111" text-anchor="middle" textLength="36.5" lengthAdjust="spacingAndGlyphs">Islandia</text>
<path d="M409.86,384.20 V357.88 Q409.86,355.08 412.66,355.08 H417.36 Q420.16,355.08 420.16,357.88 V384.20 Z" fill="#9b9da0"/>
<text transform="translate(418.4,353.5) rotate(-90)" font-family="Liberation Sans" font-size="9.8" font-weight="normal" stroke="#111111" stroke-width="0.28" fill="#111111" textLength="12.4" lengthAdjust="spacingAndGlyphs">9,4</text>
<path d="M421.86,384.20 V319.26 Q421.86,316.46 424.66,316.46 H429.36 Q432.16,316.46 432.16,319.26 V384.20 Z" fill="#68c8f2"/>
<text transform="translate(430.4,314.3) rotate(-90)" font-family="Liberation Sans" font-size="9.8" font-weight="normal" stroke="#111111" stroke-width="0.28" fill="#111111" textLength="14.6" lengthAdjust="spacingAndGlyphs">21,7</text>
<path d="M433.86,384.20 V329.00 Q433.86,326.20 436.66,326.20 H441.36 Q444.16,326.20 444.16,329.00 V384.20 Z" fill="#f7987a"/>
<g transform="translate(433.56,323.60) scale(1.0300,1)" fill="#111111" stroke="#111111" stroke-width="0.30" stroke-linejoin="round">
<path d="M2.91,0.00 L2.91,-6.40 L1.03,-5.23 L1.03,-6.57 L2.99,-7.84 L4.48,-7.84 L4.48,0.00Z"/>
<text x="5.51" y="0" font-family="Liberation Sans" font-size="11.4" font-weight="bold">8</text>
<text x="11.85" y="0" font-family="Liberation Sans" font-size="11.4" font-weight="bold">,</text>
<text x="15.02" y="0" font-family="Liberation Sans" font-size="11.4" font-weight="bold">6</text>
</g>
<path d="M410.3,386.6 V388.7 Q410.3,390.9 412.5,390.9 H439.7 Q441.9,390.9 441.9,388.7 V386.6" fill="none" stroke="#3a3a3a" stroke-width="1.1"/>
<line x1="425.9" y1="390.9" x2="425.9" y2="397.0" stroke="#3a3a3a" stroke-width="1.0"/>
<text x="423.9" y="405.8" font-family="Liberation Sans" font-size="10.8" font-weight="normal" fill="#111111" text-anchor="middle" textLength="22.0" lengthAdjust="spacingAndGlyphs">Litwa</text>
<line x1="435.43" y1="398.36" x2="439.49" y2="400.04" stroke="#666" stroke-width="0.7"/>
<line x1="436.62" y1="397.17" x2="438.30" y2="401.23" stroke="#666" stroke-width="0.7"/>
<line x1="438.30" y1="397.17" x2="436.62" y2="401.23" stroke="#666" stroke-width="0.7"/>
<line x1="439.49" y1="398.36" x2="435.43" y2="400.04" stroke="#666" stroke-width="0.7"/>
<circle cx="437.46" cy="399.20" r="0.9" fill="#fff"/>
<path d="M454.78,384.20 V339.99 Q454.78,337.19 457.58,337.19 H462.28 Q465.08,337.19 465.08,339.99 V384.20 Z" fill="#9b9da0"/>
<text transform="translate(463.3,336.4) rotate(-90)" font-family="Liberation Sans" font-size="9.8" font-weight="normal" stroke="#111111" stroke-width="0.28" fill="#111111" textLength="14.3" lengthAdjust="spacingAndGlyphs">15,1</text>
<path d="M466.78,384.20 V339.04 Q466.78,336.24 469.58,336.24 H474.28 Q477.08,336.24 477.08,339.04 V384.20 Z" fill="#68c8f2"/>
<text transform="translate(475.3,332.8) rotate(-90)" font-family="Liberation Sans" font-size="9.8" font-weight="normal" stroke="#111111" stroke-width="0.28" fill="#111111" textLength="14.6" lengthAdjust="spacingAndGlyphs">15,4</text>
<path d="M478.78,384.20 V311.73 Q478.78,308.93 481.58,308.93 H486.28 Q489.08,308.93 489.08,311.73 V384.20 Z" fill="#f7987a"/>
<g transform="translate(473.78,306.33) scale(0.9832,1)" fill="#111111" stroke="#111111" stroke-width="0.30" stroke-linejoin="round">
<text x="0.00" y="0" font-family="Liberation Sans" font-size="11.4" font-weight="bold">2</text>
<text x="6.34" y="0" font-family="Liberation Sans" font-size="11.4" font-weight="bold">4</text>
<text x="12.68" y="0" font-family="Liberation Sans" font-size="11.4" font-weight="bold">,</text>
<path d="M18.76,0.00 L18.76,-6.40 L16.88,-5.23 L16.88,-6.57 L18.84,-7.84 L20.32,-7.84 L20.32,0.00Z"/>
</g>
<path d="M455.2,386.6 V388.7 Q455.2,390.9 457.4,390.9 H484.6 Q486.8,390.9 486.8,388.7 V386.6" fill="none" stroke="#3a3a3a" stroke-width="1.1"/>
<line x1="470.8" y1="390.9" x2="470.8" y2="408.8" stroke="#3a3a3a" stroke-width="1.0"/>
<text x="481.6" y="420.0" font-family="Liberation Sans" font-size="10.8" font-weight="normal" fill="#111111" text-anchor="middle" textLength="72.5" lengthAdjust="spacingAndGlyphs">Nowa Zelandia</text>
<line x1="45.2" y1="384.3" x2="494.5" y2="384.3" stroke="#333" stroke-width="1.4"/>
<circle cx="14.6" cy="428.9" r="3.7" fill="none" stroke="#dc1428" stroke-width="1.0"/>
<text x="14.6" y="431.1" font-family="Liberation Sans" font-size="6.2" font-weight="bold" fill="#dc1428" text-anchor="middle">C</text>
<circle cx="25.2" cy="428.9" r="3.7" fill="none" stroke="#dc1428" stroke-width="1.0"/>
<text x="25.2" y="431.1" font-family="Liberation Sans" font-size="6.2" font-weight="bold" fill="#dc1428" text-anchor="middle">P</text>
<text x="32.6" y="433.2" font-family="Liberation Sans" font-size="6.8" font-weight="normal" fill="#222" text-anchor="start" textLength="8.8" lengthAdjust="spacingAndGlyphs" stroke="#222" stroke-width="0.20" stroke-linejoin="round">NS</text>
<text x="80.5" y="433.1" font-family="Liberation Sans" font-size="8.6" font-weight="normal" fill="#111" text-anchor="start" textLength="706.0" lengthAdjust="spacingAndGlyphs" stroke="#111" stroke-width="0.22" stroke-linejoin="round">* Źródło: HBSC - Health Behaviour in. School-aged Children. WHO Collaborative Study 2016. Badanie prowadzone w 42 krajach w grupie 220 tys. nastolatków, w tym 4,5 tys. z Polski</text>
<path d="M510.3,238.0 L519.3,246.6 L519.3,239.9 L524.6,239.9 L524.6,255.4 L508.8,255.4 L508.8,250.8 L515.5,250.8 L506.9,241.1 Z" fill="#8a8a8a" stroke="#8a8a8a" stroke-width="5.2" stroke-linejoin="round" opacity="0.8" filter="url(#blur1)" transform="translate(0.2,0.5)"/>
<path d="M510.3,238.0 L519.3,246.6 L519.3,239.9 L524.6,239.9 L524.6,255.4 L508.8,255.4 L508.8,250.8 L515.5,250.8 L506.9,241.1 Z" fill="#fff" stroke="#fff" stroke-width="3.2" stroke-linejoin="round"/>
<path d="M510.3,238.0 L519.3,246.6 L519.3,239.9 L524.6,239.9 L524.6,255.4 L508.8,255.4 L508.8,250.8 L515.5,250.8 L506.9,241.1 Z" fill="#9a9a9a"/>
<text x="536.8" y="248.3" font-family="Liberation Sans" font-weight="bold" fill="#111111" stroke="#111111" stroke-width="0.32" xml:space="preserve" textLength="226.6" lengthAdjust="spacingAndGlyphs"><tspan font-size="12.3">O</tspan><tspan font-size="10.0">DSETEK ZADOWOLONYCH </tspan><tspan font-size="11.3">15</tspan><tspan font-size="10.0">-LATKÓW</tspan></text>
<line x1="765.63" y1="240.65" x2="771.17" y2="242.95" stroke="#666" stroke-width="0.7"/>
<line x1="767.25" y1="239.03" x2="769.55" y2="244.57" stroke="#666" stroke-width="0.7"/>
<line x1="769.55" y1="239.03" x2="767.25" y2="244.57" stroke="#666" stroke-width="0.7"/>
<line x1="771.17" y1="240.65" x2="765.63" y2="242.95" stroke="#666" stroke-width="0.7"/>
<circle cx="768.40" cy="241.80" r="0.9" fill="#fff"/>
<rect x="537.8" y="254.0" width="11.4" height="11.4" rx="2.4" fill="#f7987a"/>
<text x="551.3" y="263.9" font-family="Liberation Sans" font-size="11.4" font-weight="normal" fill="#111111" text-anchor="start" textLength="54.5" lengthAdjust="spacingAndGlyphs">dziewczęta</text>
<rect x="620.0" y="254.0" width="11.4" height="11.4" rx="2.4" fill="#68c8f2"/>
<text x="634.3" y="263.9" font-family="Liberation Sans" font-size="11.4" font-weight="normal" fill="#111111" text-anchor="start" textLength="36.8" lengthAdjust="spacingAndGlyphs">chłopcy</text>
<rect x="533.0" y="290.0" width="252.5" height="95.9" fill="url(#pg)"/>
<line x1="533.0" y1="362.20" x2="785.5" y2="362.20" stroke="#999999" stroke-width="0.85" stroke-dasharray="0.9 1.2"/>
<line x1="533.0" y1="338.50" x2="785.5" y2="338.50" stroke="#999999" stroke-width="0.85" stroke-dasharray="0.9 1.2"/>
<line x1="533.0" y1="314.80" x2="785.5" y2="314.80" stroke="#999999" stroke-width="0.85" stroke-dasharray="0.9 1.2"/>
<line x1="533.0" y1="291.10" x2="543.5" y2="291.10" stroke="#999999" stroke-width="0.85" stroke-dasharray="0.9 1.2"/>
<line x1="649.0" y1="291.10" x2="685.5" y2="291.10" stroke="#999999" stroke-width="0.85" stroke-dasharray="0.9 1.2"/>
<line x1="769.0" y1="291.10" x2="785.5" y2="291.10" stroke="#999999" stroke-width="0.85" stroke-dasharray="0.9 1.2"/>
<text x="530.2" y="388.8" font-family="Liberation Sans" font-size="7.3" font-weight="normal" fill="#111111" text-anchor="end" stroke="#111111" stroke-width="0.18" stroke-linejoin="round">60</text>
<text x="530.2" y="366.0" font-family="Liberation Sans" font-size="7.3" font-weight="normal" fill="#111111" text-anchor="end" stroke="#111111" stroke-width="0.18" stroke-linejoin="round">70</text>
<text x="530.2" y="342.3" font-family="Liberation Sans" font-size="7.3" font-weight="normal" fill="#111111" text-anchor="end" stroke="#111111" stroke-width="0.18" stroke-linejoin="round">80</text>
<text x="530.2" y="318.6" font-family="Liberation Sans" font-size="7.3" font-weight="normal" fill="#111111" text-anchor="end" stroke="#111111" stroke-width="0.18" stroke-linejoin="round">90</text>
<text x="530.2" y="294.9" font-family="Liberation Sans" font-size="7.3" font-weight="normal" fill="#111111" text-anchor="end" stroke="#111111" stroke-width="0.18" stroke-linejoin="round">100</text>
<text x="596.0" y="280.7" font-family="Liberation Sans" font-size="7.3" font-weight="bold" fill="#111111" text-anchor="middle" textLength="57.5" lengthAdjust="spacingAndGlyphs" stroke="#111111" stroke-width="0.15" stroke-linejoin="round">NAJBARDZIEJ</text>
<text x="545.4" y="293.4" font-family="Liberation Sans" font-size="11.2" font-weight="bold" fill="#111111" text-anchor="start" textLength="101.3" lengthAdjust="spacingAndGlyphs" stroke="#111111" stroke-width="0.30" stroke-linejoin="round">NIEZADOWOLENI</text>
<text x="727.8" y="280.7" font-family="Liberation Sans" font-size="7.3" font-weight="bold" fill="#111111" text-anchor="middle" textLength="58.0" lengthAdjust="spacingAndGlyphs" stroke="#111111" stroke-width="0.15" stroke-linejoin="round">NAJBARDZIEJ</text>
<text x="687.9" y="293.4" font-family="Liberation Sans" font-size="11.2" font-weight="bold" fill="#111111" text-anchor="start" textLength="79.8" lengthAdjust="spacingAndGlyphs" stroke="#111111" stroke-width="0.30" stroke-linejoin="round">ZADOWOLENI</text>
<rect x="659.3" y="291" width="1.6" height="94" fill="#fff" opacity="0.75"/>
<path d="M537.10,385.40 V359.66 Q537.10,357.46 539.30,357.46 H550.10 Q552.30,357.46 552.30,359.66 V385.40 Z" fill="#f7987a"/>
<path d="M553.70,385.40 V354.92 Q553.70,352.72 555.90,352.72 H566.70 Q568.90,352.72 568.90,354.92 V385.40 Z" fill="#68c8f2"/>
<text x="544.0" y="354.7" font-family="Liberation Sans" font-size="12.4" font-weight="bold" fill="#111111" text-anchor="middle" textLength="12.8" lengthAdjust="spacingAndGlyphs" stroke="#111111" stroke-width="0.30" stroke-linejoin="round">72</text>
<text x="560.9" y="349.9" font-family="Liberation Sans" font-size="12.4" font-weight="bold" fill="#111111" text-anchor="middle" textLength="12.8" lengthAdjust="spacingAndGlyphs" stroke="#111111" stroke-width="0.30" stroke-linejoin="round">74</text>
<path d="M537.1,386.7 V388.9 Q537.1,391.1 539.3,391.1 H566.7 Q568.9,391.1 568.9,388.9 V386.7" fill="none" stroke="#444" stroke-width="1.1"/>
<line x1="553.1" y1="391.1" x2="553.1" y2="396.7" stroke="#444" stroke-width="1.0"/>
<text x="554.1" y="405.8" font-family="Liberation Sans" font-size="10.8" font-weight="normal" fill="#111111" text-anchor="middle" textLength="53.0" lengthAdjust="spacingAndGlyphs">Macedonia</text>
<path d="M577.60,385.40 V369.14 Q577.60,366.94 579.80,366.94 H590.60 Q592.80,366.94 592.80,369.14 V385.40 Z" fill="#f7987a"/>
<path d="M594.20,385.40 V333.59 Q594.20,331.39 596.40,331.39 H607.20 Q609.40,331.39 609.40,333.59 V385.40 Z" fill="#68c8f2"/>
<text x="582.7" y="365.2" font-family="Liberation Sans" font-size="16.8" font-weight="bold" fill="#dc1428" text-anchor="middle" textLength="21.5" lengthAdjust="spacingAndGlyphs" stroke="#dc1428" stroke-width="0.40" stroke-linejoin="round">68</text>
<text x="601.8" y="329.4" font-family="Liberation Sans" font-size="16.8" font-weight="bold" fill="#1c9cdb" text-anchor="middle" textLength="19.8" lengthAdjust="spacingAndGlyphs" stroke="#1c9cdb" stroke-width="0.40" stroke-linejoin="round">83</text>
<path d="M577.6,386.7 V388.9 Q577.6,391.1 579.8,391.1 H607.2 Q609.4,391.1 609.4,388.9 V386.7" fill="none" stroke="#444" stroke-width="1.1"/>
<line x1="593.6" y1="391.1" x2="593.6" y2="408.6" stroke="#444" stroke-width="1.0"/>
<text x="593.2" y="420.0" font-family="Liberation Sans" font-size="10.8" font-weight="bold" fill="#dc1428" text-anchor="middle" textLength="34.5" lengthAdjust="spacingAndGlyphs" stroke="#dc1428" stroke-width="0.25" stroke-linejoin="round">Polska</text>
<path d="M617.90,385.40 V362.03 Q617.90,359.83 620.10,359.83 H630.90 Q633.10,359.83 633.10,362.03 V385.40 Z" fill="#f7987a"/>
<path d="M634.50,385.40 V331.22 Q634.50,329.02 636.70,329.02 H647.50 Q649.70,329.02 649.70,331.22 V385.40 Z" fill="#68c8f2"/>
<g transform="translate(619.00,357.03) scale(0.8999,1)" fill="#111111" stroke="#111111" stroke-width="0.30" stroke-linejoin="round">
<text x="0.00" y="0" font-family="Liberation Sans" font-size="12.4" font-weight="bold">7</text>
<path d="M10.06,0.00 L10.06,-6.96 L8.02,-5.69 L8.02,-7.14 L10.15,-8.53 L11.76,-8.53 L11.76,0.00Z"/>
</g>
<text x="641.7" y="326.2" font-family="Liberation Sans" font-size="12.4" font-weight="bold" fill="#111111" text-anchor="middle" textLength="12.8" lengthAdjust="spacingAndGlyphs" stroke="#111111" stroke-width="0.30" stroke-linejoin="round">84</text>
<path d="M617.9,386.7 V388.9 Q617.9,391.1 620.1,391.1 H647.5 Q649.7,391.1 649.7,388.9 V386.7" fill="none" stroke="#444" stroke-width="1.1"/>
<line x1="633.9" y1="391.1" x2="633.9" y2="396.7" stroke="#444" stroke-width="1.0"/>
<text x="633.9" y="405.8" font-family="Liberation Sans" font-size="10.8" font-weight="normal" fill="#111111" text-anchor="middle" textLength="30.6" lengthAdjust="spacingAndGlyphs">Anglia</text>
<path d="M669.70,385.40 V319.37 Q669.70,317.17 671.90,317.17 H682.70 Q684.90,317.17 684.90,319.37 V385.40 Z" fill="#f7987a"/>
<path d="M686.30,385.40 V319.37 Q686.30,317.17 688.50,317.17 H699.30 Q701.50,317.17 701.50,319.37 V385.40 Z" fill="#68c8f2"/>
<text x="676.6" y="314.4" font-family="Liberation Sans" font-size="12.4" font-weight="bold" fill="#111111" text-anchor="middle" textLength="12.8" lengthAdjust="spacingAndGlyphs" stroke="#111111" stroke-width="0.30" stroke-linejoin="round">89</text>
<text x="693.5" y="314.4" font-family="Liberation Sans" font-size="12.4" font-weight="bold" fill="#111111" text-anchor="middle" textLength="12.8" lengthAdjust="spacingAndGlyphs" stroke="#111111" stroke-width="0.30" stroke-linejoin="round">89</text>
<path d="M669.7,386.7 V388.9 Q669.7,391.1 671.9,391.1 H699.3 Q701.5,391.1 701.5,388.9 V386.7" fill="none" stroke="#444" stroke-width="1.1"/>
<line x1="685.7" y1="391.1" x2="685.7" y2="396.7" stroke="#444" stroke-width="1.0"/>
<text x="687.3" y="405.8" font-family="Liberation Sans" font-size="10.8" font-weight="normal" fill="#111111" text-anchor="middle" textLength="36.0" lengthAdjust="spacingAndGlyphs">Albania</text>
<path d="M710.10,385.40 V321.74 Q710.10,319.54 712.30,319.54 H723.10 Q725.30,319.54 725.30,321.74 V385.40 Z" fill="#f7987a"/>
<path d="M726.70,385.40 V309.89 Q726.70,307.69 728.90,307.69 H739.70 Q741.90,307.69 741.90,309.89 V385.40 Z" fill="#68c8f2"/>
<text x="717.0" y="316.7" font-family="Liberation Sans" font-size="12.4" font-weight="bold" fill="#111111" text-anchor="middle" textLength="12.8" lengthAdjust="spacingAndGlyphs" stroke="#111111" stroke-width="0.30" stroke-linejoin="round">88</text>
<text x="733.9" y="304.9" font-family="Liberation Sans" font-size="12.4" font-weight="bold" fill="#111111" text-anchor="middle" textLength="12.8" lengthAdjust="spacingAndGlyphs" stroke="#111111" stroke-width="0.30" stroke-linejoin="round">93</text>
<path d="M710.1,386.7 V388.9 Q710.1,391.1 712.3,391.1 H739.7 Q741.9,391.1 741.9,388.9 V386.7" fill="none" stroke="#444" stroke-width="1.1"/>
<line x1="726.1" y1="391.1" x2="726.1" y2="408.6" stroke="#444" stroke-width="1.0"/>
<text x="726.3" y="420.0" font-family="Liberation Sans" font-size="10.8" font-weight="normal" fill="#111111" text-anchor="middle" textLength="46.5" lengthAdjust="spacingAndGlyphs">Mołdawia</text>
<path d="M750.70,385.40 V319.37 Q750.70,317.17 752.90,317.17 H763.70 Q765.90,317.17 765.90,319.37 V385.40 Z" fill="#f7987a"/>
<path d="M767.30,385.40 V314.63 Q767.30,312.43 769.50,312.43 H780.30 Q782.50,312.43 782.50,314.63 V385.40 Z" fill="#68c8f2"/>
<text x="757.6" y="314.4" font-family="Liberation Sans" font-size="12.4" font-weight="bold" fill="#111111" text-anchor="middle" textLength="12.8" lengthAdjust="spacingAndGlyphs" stroke="#111111" stroke-width="0.30" stroke-linejoin="round">89</text>
<g transform="translate(768.70,309.63) scale(0.8999,1)" fill="#111111" stroke="#111111" stroke-width="0.30" stroke-linejoin="round">
<text x="0.00" y="0" font-family="Liberation Sans" font-size="12.4" font-weight="bold">9</text>
<path d="M10.06,0.00 L10.06,-6.96 L8.02,-5.69 L8.02,-7.14 L10.15,-8.53 L11.76,-8.53 L11.76,0.00Z"/>
</g>
<path d="M750.7,386.7 V388.9 Q750.7,391.1 752.9,391.1 H780.3 Q782.5,391.1 782.5,388.9 V386.7" fill="none" stroke="#444" stroke-width="1.1"/>
<line x1="766.7" y1="391.1" x2="766.7" y2="396.7" stroke="#444" stroke-width="1.0"/>
<text x="767.1" y="405.8" font-family="Liberation Sans" font-size="10.8" font-weight="normal" fill="#111111" text-anchor="middle" textLength="39.0" lengthAdjust="spacingAndGlyphs">Armenia</text>
<line x1="533.5" y1="385.3" x2="785.5" y2="385.3" stroke="#555" stroke-width="0.9"/>
<line x1="660" y1="385.3" x2="660" y2="419" stroke="#555" stroke-width="0.9"/>
<circle cx="652.20" cy="377.6" r="0.95" fill="#111"/>
<circle cx="654.65" cy="377.6" r="0.95" fill="#111"/>
<circle cx="657.10" cy="377.6" r="0.95" fill="#111"/>
<circle cx="659.55" cy="377.6" r="0.95" fill="#111"/>
<circle cx="662.00" cy="377.6" r="0.95" fill="#111"/>
<circle cx="664.45" cy="377.6" r="0.95" fill="#111"/>
<circle cx="666.90" cy="377.6" r="0.95" fill="#111"/>
</g>
</svg>
</body></html>
